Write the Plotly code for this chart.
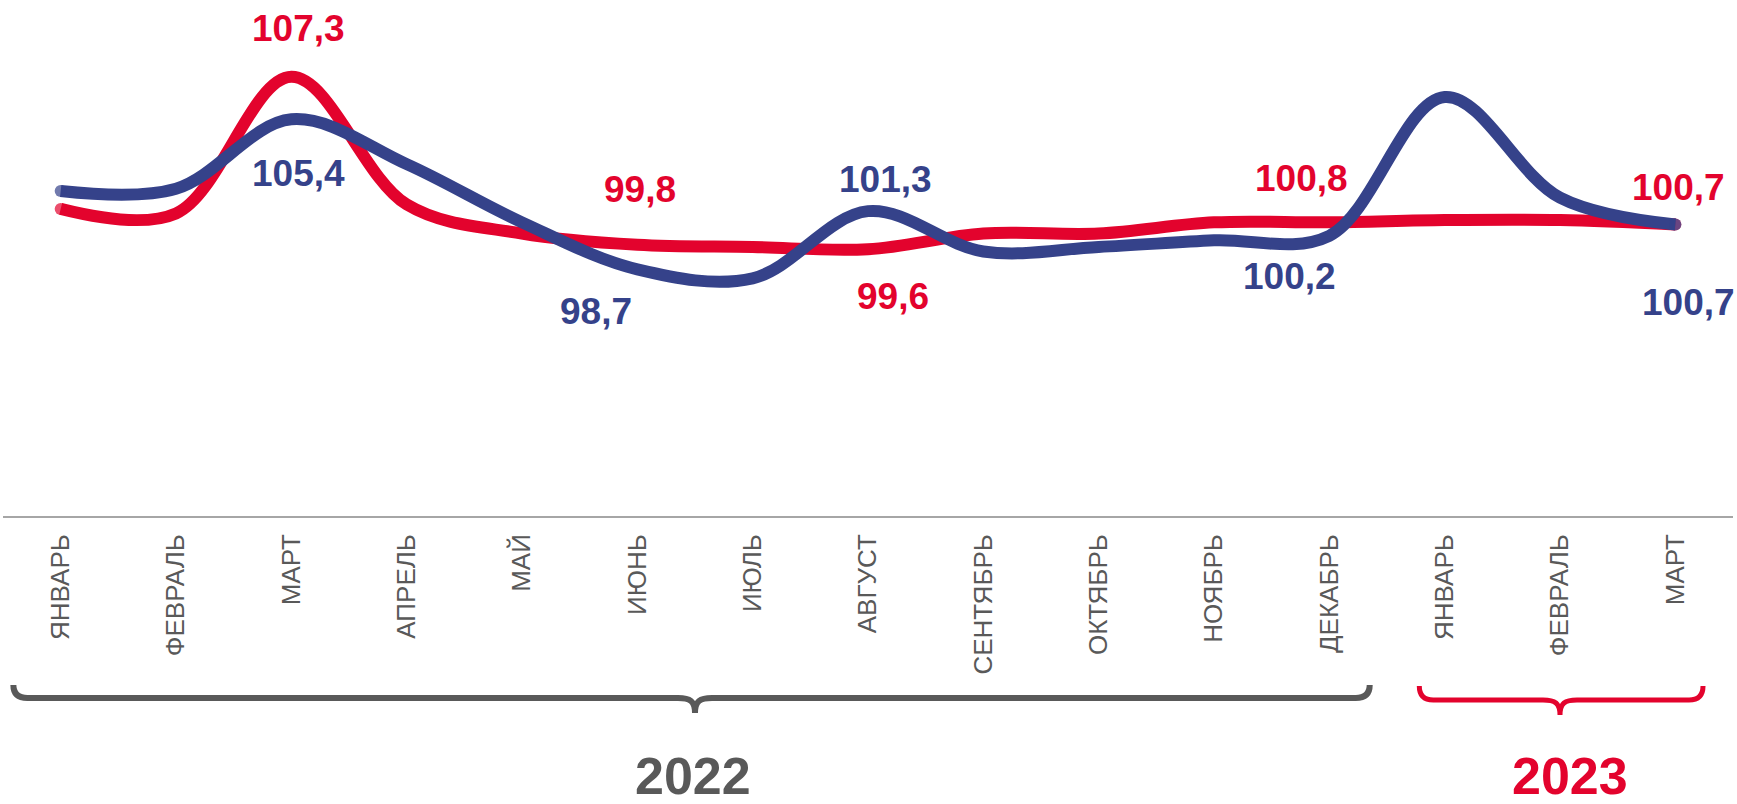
import plotly.graph_objects as go

# ---------------- data ----------------
months = ["ЯНВАРЬ", "ФЕВРАЛЬ", "МАРТ", "АПРЕЛЬ", "МАЙ", "ИЮНЬ", "ИЮЛЬ", "АВГУСТ",
          "СЕНТЯБРЬ", "ОКТЯБРЬ", "НОЯБРЬ", "ДЕКАБРЬ", "ЯНВАРЬ", "ФЕВРАЛЬ", "МАРТ"]
red_values = [101.4, 101.2, 107.3, 101.6, 100.3, 99.8, 99.7, 99.6,
              100.3, 100.3, 100.8, 100.8, 100.9, 100.9, 100.7]
blue_values = [102.2, 102.3, 105.4, 103.4, 100.8, 98.7, 98.3, 101.3,
               99.5, 99.7, 100.0, 100.2, 106.4, 101.9, 100.7]
red_labeled = [2, 5, 7, 11, 14]
blue_labeled = [2, 5, 7, 11, 14]
years = ["2022", "2023"]
year_spans = [(0, 11), (12, 14)]

# ---------------- style / layout ----------------
W, H = 1737, 804
ML, MR, MT, MB = 3, 4, 0, 288
PW, PH = W - ML - MR, H - MT - MB
Y_RANGE = [87.685, 110.73]
RED = "#E3032D"
BLUE = "#35428A"
GRAY = "#595959"
FONT = "Liberation Sans, Arial, sans-serif"
n = len(months)
xs = list(range(n))

# label offsets (pixels: dx, dy up-positive)
red_label_shift = {2: (7, 48), 5: (3, 55), 7: (25, -47), 11: (-28, 44), 14: (3, 37)}
blue_label_shift = {2: (7, -54), 5: (-41, -42), 7: (17, 32), 11: (-40, -41), 14: (13, -78)}


def px_x(idx):
    return ML + (idx + 0.5) * PW / n


def paper_x(xp):
    return (xp - ML) / PW


def paper_y(yp):
    return 1 - (yp - MT) / PH


fig = go.Figure()
for vals, col in [(red_values, RED), (blue_values, BLUE)]:
    sizes = [0] * n
    sizes[0] = sizes[-1] = 12
    fig.add_trace(go.Scatter(
        x=xs, y=vals, mode="lines+markers",
        line=dict(color=col, width=12, shape="spline", smoothing=1.0),
        marker=dict(size=sizes, color=col, line=dict(width=0)),
        hoverinfo="skip", showlegend=False, cliponaxis=False))

annotations = []
for vals, idxs, shifts, col in [(red_values, red_labeled, red_label_shift, RED),
                                (blue_values, blue_labeled, blue_label_shift, BLUE)]:
    for i in idxs:
        dx, dy = shifts[i]
        annotations.append(dict(
            x=i, y=vals[i], xref="x", yref="y",
            text=f"{vals[i]:.1f}".replace(".", ","),
            showarrow=False, xanchor="center", yanchor="middle",
            xshift=dx, yshift=dy,
            font=dict(family=FONT, size=37, color=col, weight="bold")))

# braces + year captions
shapes = []
brace_style = [
    dict(color=GRAY, width=6, pad_l=-0.41, pad_r=0.35, ytop=685, ymid=698, ytip=713, xshift=-2),
    dict(color=RED, width=5, pad_l=-0.22, pad_r=0.24, ytop=686, ymid=700, ytip=715, xshift=10),
]
for (a, b), yr, st in zip(year_spans, years, brace_style):
    x0 = px_x(a + st["pad_l"])
    x1 = px_x(b + st["pad_r"])
    xm = (px_x(a) + px_x(b)) / 2
    yt, ym, yb = st["ytop"], st["ymid"], st["ytip"]
    r, r2 = 14, 17

    def P(xp, yp):
        return f"{paper_x(xp):.5f},{paper_y(yp):.5f}"

    path = (f"M{P(x0, yt)} Q{P(x0, ym)} {P(x0 + r, ym)} L{P(xm - r2, ym)} "
            f"C{P(xm - 5, ym)} {P(xm, ym + 3)} {P(xm, yb)} "
            f"C{P(xm, ym + 3)} {P(xm + 5, ym)} {P(xm + r2, ym)} "
            f"L{P(x1 - r, ym)} Q{P(x1, ym)} {P(x1, yt)}")
    shapes.append(dict(type="path", xref="paper", yref="paper", path=path,
                       line=dict(color=st["color"], width=st["width"]),
                       fillcolor="rgba(0,0,0,0)", layer="above"))
    annotations.append(dict(
        x=paper_x(xm), y=paper_y(776), xref="paper", yref="paper",
        text=yr, showarrow=False, xanchor="center", yanchor="middle",
        xshift=st["xshift"],
        font=dict(family=FONT, size=52, color=st["color"], weight="bold")))

fig.update_layout(
    width=W, height=H,
    margin=dict(l=ML, r=MR, t=MT, b=MB, pad=0),
    paper_bgcolor="white", plot_bgcolor="white",
    xaxis=dict(range=[-0.5, n - 0.5], tickmode="array", tickvals=xs, ticktext=months,
               tickangle=-90, showgrid=False, zeroline=False, showline=True,
               linecolor="#A6A6A6", linewidth=1.5, ticks="", ticklabelstandoff=6,
               tickfont=dict(family=FONT, size=26, color=GRAY), fixedrange=True),
    yaxis=dict(range=Y_RANGE, visible=False, showgrid=False, zeroline=False, fixedrange=True),
    shapes=shapes, annotations=annotations,
)
fig.write_html("out.html", config={"displayModeBar": False},
               post_script="document.body.style.margin='0';document.body.style.overflow='hidden';")
